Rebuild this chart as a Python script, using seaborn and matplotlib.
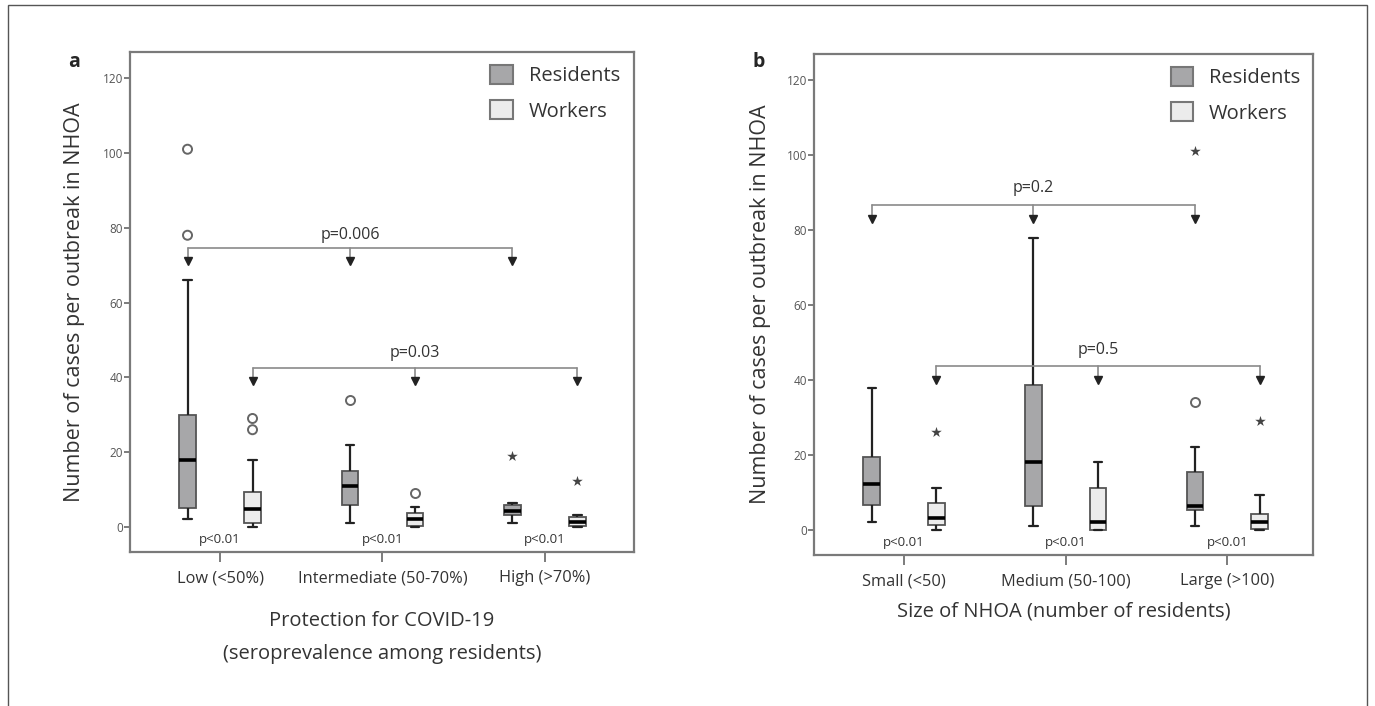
import numpy as np
import pandas as pd
import matplotlib
matplotlib.use("Agg")
import matplotlib.pyplot as plt
from matplotlib.patches import Rectangle
import seaborn as sns

# panel a: protection (seroprevalence among residents)
a_categories = ["Low (<50%)", "Intermediate (50-70%)", "High (>70%)"]
# five numbers per box: low whisker, Q1, median, Q3, high whisker
a_residents = [[2, 5, 18, 30, 66], [1, 6, 11, 15, 22], [1, 3.2, 4.3, 5.8, 6.3]]
a_workers = [[0, 1, 4.7, 9.3, 18], [0, 0.2, 2.2, 3.6, 5.2], [0, 0.3, 1.2, 2.7, 3.1]]
a_res_circles = [[78, 101], [34], []]
a_res_stars = [[], [], [19]]
a_wrk_circles = [[26, 29], [9.2], []]
a_wrk_stars = [[], [], [12.3]]

# panel b: size of NHOA
b_categories = ["Small (<50)", "Medium (50-100)", "Large (>100)"]
b_residents = [[2, 6.7, 12.3, 19.5, 38], [1, 6.3, 18, 38.7, 78], [1, 5.2, 6.3, 15.4, 22]]
b_workers = [[0, 1.2, 3.3, 7.2, 11.3], [0, 0.1, 2, 11.3, 18], [0, 0.3, 2.2, 4.3, 9.4]]
b_res_circles = [[], [], [34]]
b_res_stars = [[], [], [101]]
b_wrk_circles = [[], [], []]
b_wrk_stars = [[26], [], [29]]

groups = ["Residents", "Workers"]
box_colors = {"Residents": "#a7a7a9", "Workers": "#ececec"}

a_top_p, a_low_p = "p=0.006", "p=0.03"
b_top_p, b_low_p = "p=0.2", "p=0.5"
pair_p = "p<0.01"


def long_frame(categories, res, wrk):
    rows = []
    for cat, r, w in zip(categories, res, wrk):
        rows += [(cat, "Residents", v) for v in r]
        rows += [(cat, "Workers", v) for v in w]
    return pd.DataFrame(rows, columns=["cat", "group", "value"])


def bracket(ax, xs, y_line, y_tip, label, y_text):
    ax.plot([xs[0], xs[-1]], [y_line, y_line], color="#8a8a8a", lw=1.2, zorder=3)
    for x in xs:
        ax.plot([x, x], [y_line, y_tip + 1.5], color="#8a8a8a", lw=1.2, zorder=3)
        ax.plot([x], [y_tip + 1], marker="v", color="#222222", ms=6, zorder=4)
    ax.text(xs[1], y_text, label, ha="center", va="bottom", fontsize=11.5, color="#333333")


def draw_panel(ax, categories, res, wrk, res_c, res_s, wrk_c, wrk_s):
    df = long_frame(categories, res, wrk)
    sns.boxplot(data=df, x="cat", y="value", hue="group", order=categories,
                hue_order=groups, palette=box_colors, width=0.8, gap=0.74,
                whis=(0, 100), showfliers=False, linecolor="#555555", linewidth=1.3,
                medianprops={"color": "black", "linewidth": 2.6},
                whiskerprops={"color": "#222222", "linewidth": 1.6},
                capprops={"color": "#222222", "linewidth": 1.6},
                ax=ax)
    circ = long_frame(categories, res_c, wrk_c)
    stars = long_frame(categories, res_s, wrk_s)
    if len(circ):
        sns.stripplot(data=circ, x="cat", y="value", hue="group", order=categories,
                      hue_order=groups, palette={"Residents": "white", "Workers": "white"},
                      dodge=True, jitter=False, size=6.5, linewidth=1.4,
                      edgecolor="#666666", legend=False, ax=ax, zorder=5)
    if len(stars):
        sns.stripplot(data=stars, x="cat", y="value", hue="group", order=categories,
                      hue_order=groups, palette={"Residents": "#444444", "Workers": "#444444"},
                      dodge=True, jitter=False, size=8, marker="*", linewidth=0,
                      legend=False, ax=ax, zorder=5)
    for i in range(len(categories)):
        ax.text(i, -1.6, pair_p, ha="center", va="top", fontsize=9.5, color="#333333")

    handles, labels = ax.get_legend_handles_labels()
    ax.legend(handles[:2], labels[:2], loc="upper left", frameon=False, fontsize=14.5,
              handlelength=1.1, handleheight=1.1, handletextpad=0.8,
              labelspacing=0.7, borderpad=0, borderaxespad=0,
              bbox_to_anchor=(0.715, 0.975), labelcolor="#333333")
    for h in ax.get_legend().legend_handles:
        h.set_edgecolor("#777777")
        h.set_linewidth(1.5)

    ax.set_ylim(-6.7, 127)
    ax.set_yticks(range(0, 121, 20))
    ax.tick_params(axis="y", labelsize=8.5, labelcolor="#555555", length=4,
                   width=1.2, color="#666666", direction="out", left=True, pad=1)
    ax.tick_params(axis="x", labelsize=11.8, labelcolor="#333333", length=7,
                   width=1.2, color="#666666", direction="out", bottom=True, pad=6)
    for s in ax.spines.values():
        s.set_visible(True)
        s.set_color("#7a7a7a")
        s.set_linewidth(1.6)
    ax.set_ylabel("Number of cases per outbreak in NHOA", fontsize=15.5, color="#333333")


sns.set_style("white")
plt.rcParams["font.family"] = ["Open Sans", "DejaVu Sans"]

fig = plt.figure(figsize=(13.75, 7.06), dpi=100)
ax_a = fig.add_axes([130 / 1375, 154 / 706, 504 / 1375, 500 / 706])
ax_b = fig.add_axes([814 / 1375, 151 / 706, 499 / 1375, 501 / 706])

draw_panel(ax_a, a_categories, a_residents, a_workers,
           a_res_circles, a_res_stars, a_wrk_circles, a_wrk_stars)
draw_panel(ax_b, b_categories, b_residents, b_workers,
           b_res_circles, b_res_stars, b_wrk_circles, b_wrk_stars)

ax_a.set_xlim(-0.554, 2.548)
ax_b.set_xlim(-0.557, 2.53)

bracket(ax_a, [-0.2, 0.8, 1.8], 74.6, 70, a_top_p, 76)
bracket(ax_a, [0.2, 1.2, 2.2], 42.5, 38, a_low_p, 44.5)
bracket(ax_b, [-0.2, 0.8, 1.8], 86.8, 82, b_top_p, 89)
bracket(ax_b, [0.2, 1.2, 2.2], 43.8, 39, b_low_p, 46)

ax_a.set_xlabel("Protection for COVID-19\n(seroprevalence among residents)",
                fontsize=14.5, color="#333333", linespacing=1.85)
ax_b.set_xlabel("Size of NHOA (number of residents)", fontsize=14.5, color="#333333")
ax_a.xaxis.set_label_coords(0.5, -0.118)
ax_b.xaxis.set_label_coords(0.5, -0.093)
ax_a.yaxis.set_label_coords(-0.09, 0.5)
ax_b.yaxis.set_label_coords(-0.086, 0.5)

fig.text(68 / 1375, 1 - 62 / 706, "a", fontsize=14, fontweight="bold", va="center")
fig.text(752 / 1375, 1 - 62 / 706, "b", fontsize=14, fontweight="bold", va="center")

fig.patches.append(Rectangle((8 / 1375, -0.01), 1359 / 1375, 1 - 5 / 706 + 0.01,
                             transform=fig.transFigure, fill=False,
                             edgecolor="#555555", linewidth=1))

fig.savefig("out.png", dpi=100)
